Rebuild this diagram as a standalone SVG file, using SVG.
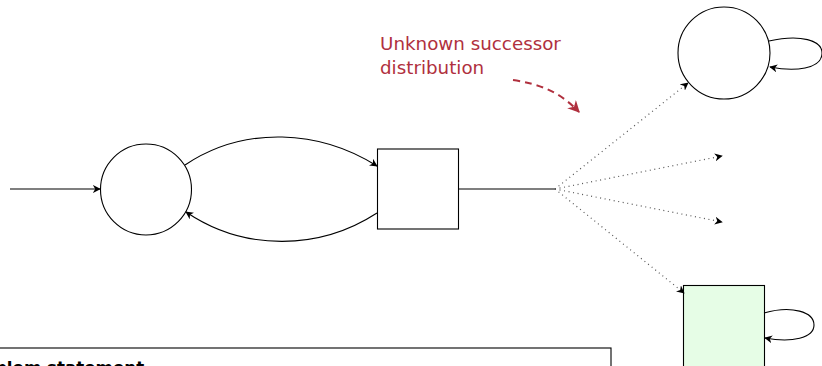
<svg xmlns="http://www.w3.org/2000/svg" width="822" height="366" viewBox="0 0 822 366">
  <style>
    .node { fill: #ffffff; stroke: #000000; stroke-width: 1.1; }
    .goal { fill: #e6fde6; stroke: #000000; stroke-width: 1.1; }
    .edge { fill: none; stroke: #000000; stroke-width: 1.1; }
    .dot { fill: none; stroke: #555555; stroke-width: 1.2; stroke-dasharray: 1 3.6; }
    .note { font-family: "DejaVu Sans", "Liberation Sans", sans-serif; font-size: 18.3px; fill: #b0303e; }
    .title { font-family: "DejaVu Sans", "Liberation Sans", sans-serif; font-size: 16.7px; font-weight: bold; fill: #000000; }
  </style>
  <defs>
    <marker id="arr" viewBox="0 0 10 10" refX="9" refY="5" markerWidth="8" markerHeight="8" orient="auto" markerUnits="userSpaceOnUse">
      <path d="M0,0 L10,5 L0,10 L3,5 Z" fill="#000000"/>
    </marker>
    <marker id="arrRed" viewBox="0 0 10 10" refX="9" refY="5" markerWidth="12" markerHeight="12" orient="auto" markerUnits="userSpaceOnUse">
      <path d="M0,0 L10,5 L0,10 L3,5 Z" fill="#b0303e"/>
    </marker>
  </defs>

  <!-- problem statement panel, clipped by the canvas -->
  <g id="panel">
    <rect x="-20" y="348" width="631" height="40" fill="#ffffff" stroke="#000000" stroke-width="1.1"/>
    <text class="title" x="-37" y="373">Problem statement</text>
  </g>

  <g id="state-start">
    <circle class="node" cx="146" cy="189.5" r="45.5"/>
  </g>
  <g id="action">
    <rect class="node" x="377.5" y="149" width="81" height="80"/>
  </g>
  <g id="state-loop">
    <circle class="node" cx="724" cy="53" r="46"/>
  </g>
  <g id="state-goal">
    <rect class="goal" x="683.5" y="285.5" width="81" height="82"/>
  </g>

  <g id="connectors">
    <line class="edge" x1="10" y1="189" x2="100" y2="189" marker-end="url(#arr)"/>
    <path class="edge" d="M185,165 C245,125 320,130 377,166" marker-end="url(#arr)"/>
    <path class="edge" d="M377,213 C320,250 245,252 186,212" marker-end="url(#arr)"/>
    <line class="edge" x1="458.5" y1="189" x2="555" y2="189"/>
    <path class="dot" d="M555,189 L688,83" marker-end="url(#arr)"/>
    <path class="dot" d="M555,189 L722,156" marker-end="url(#arr)"/>
    <path class="dot" d="M555,189 L722,222" marker-end="url(#arr)"/>
    <path class="dot" d="M555,189 L684,293" marker-end="url(#arr)"/>
    <path class="edge" d="M769,41 C800,34 823,40 822,54 C821,69 795,72 770,67" marker-end="url(#arr)"/>
    <path class="edge" d="M764,313 C792,305 814,312 814,325 C814,338 792,343 765,338" marker-end="url(#arr)"/>
  </g>

  <g id="annotation">
    <text class="note" x="380" y="50">Unknown successor</text>
    <text class="note" x="380" y="74">distribution</text>
    <path d="M513,80 C540,84 560,92 579,112" fill="none" stroke="#b0303e" stroke-width="2" stroke-dasharray="7 5" marker-end="url(#arrRed)"/>
  </g>
</svg>
